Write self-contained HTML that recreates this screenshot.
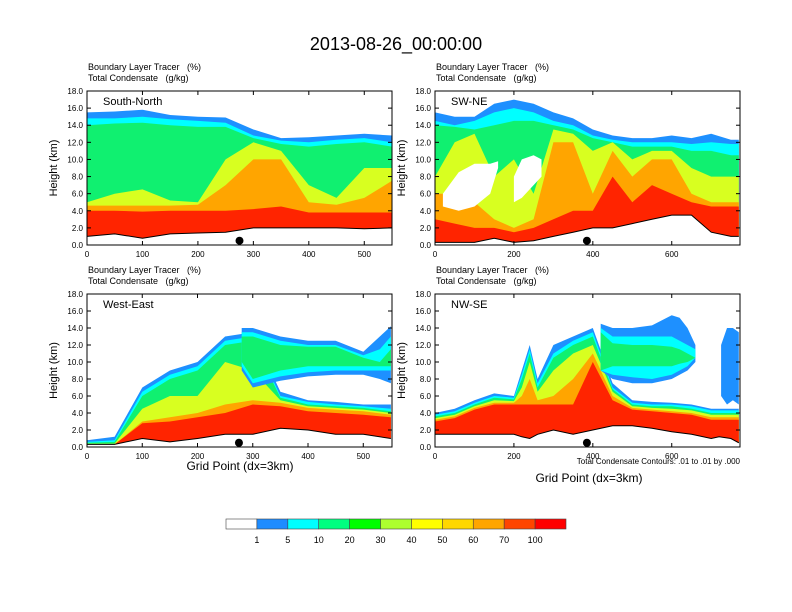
<!DOCTYPE html>
<html><head><meta charset="utf-8">
<style>
html,body{margin:0;padding:0;background:#fff;}
svg{display:block;font-family:"Liberation Sans",sans-serif;}
text{white-space:pre;}
</style></head>
<body>
<svg id="fig" width="792" height="612" viewBox="0 0 792 612">
<text x="396" y="50" text-anchor="middle" font-size="18">2013-08-26_00:00:00</text>
</svg>
<script>
// ---------- data ----------
const levelColors = ["#1e90ff","#00ffff","#10f070","#d8ff20","#ffa500","#ff2400"];
const cbLabels = ["1","5","10","20","30","40","50","60","70","100"];
const cbColors = ["#ffffff","#1e8cff","#00ffff","#00ff80","#00ff00","#adff2f","#ffff00","#ffd700","#ffa500","#ff4500","#ff0000"];

// South-North
const snX = [0,50,100,150,200,250,300,350,400,450,500,550];
const snGround = [1.0,1.3,0.8,1.3,1.4,1.5,2.0,2.0,2.0,2.0,1.9,2.0];
const snBlue = [15.5,15.6,15.8,15.2,15.0,14.9,13.5,12.5,12.6,12.8,13.0,12.8];
const snCyan = [14.8,14.8,15.0,14.7,14.5,14.3,12.8,12.2,12.0,12.3,12.5,12.0];
const snGreen = [14.0,14.2,14.3,14.0,13.8,13.8,12.5,11.8,11.5,11.8,12.0,11.5];
const snYellow = [5.0,6.0,6.5,5.2,5.0,10,12,11,7,5.5,9,9];
const snOrange = [4.6,4.6,4.6,4.6,4.7,7,10,10,5,4.7,5.5,7.5];
const snRed = [4.0,4.0,3.9,4.0,4.0,4.0,4.2,4.5,3.8,3.8,3.8,3.8];

// SW-NE
const swX = [0,50,100,150,200,250,300,350,400,450,500,550,600,650,700,750,770];
const swGround = [0.3,0.3,0.3,0.8,0.3,0.5,1.0,1.5,2.0,2.0,2.5,3.0,3.5,3.5,1.5,1.0,1.0];
const swBlue = [15.5,15,15,16.5,17,16.5,15.5,14.8,13.5,12.8,12.5,12.5,12.8,12.5,13,12.3,12.3];
const swCyan = [14.5,14,14.5,15.5,16,15.5,14.5,14,12.8,12.3,12,12,12,11.8,12,11.8,11.8];
const swGreen = [14,13.8,13.5,14,14.5,14.5,14,13.5,12.5,12,11.5,11.5,11.5,11,11,10.5,10.5];
const swYellow = [8,12,13,8,10,6,13.5,13,11,12,10,11,11,9,8,8,8];
const swOrange = [6,6,5,3,2,3,12,12,6,11,8,10,10,6,5,5,5];
const swRed = [3,2.5,2,2,1.5,2,3,4,4,8,5,7,6,5,4.5,4.5,4.5];
const swGap1X = [20,60,100,140,160];
const swGap1Bottom = [4.5,4,4.5,6,9];
const swGap1Top = [6,8.5,9.5,9.5,9.8];
const swGap2X = [200,220,250,270];
const swGap2Bottom = [5,5.5,7,8];
const swGap2Top = [8,10,10.5,10];

// West-East
const weX = [0,50,100,150,200,250,300,350,400,450,500,550];
const weGround = [0.3,0.3,1.0,0.6,1.0,1.5,1.5,2.2,2.0,1.5,1.5,1.0];
const weBlue = [0.8,1.2,7,9,10,13,13.5,6.5,5.5,5.3,5,5];
const weCyan = [0.6,0.8,6.5,8.5,9.5,12.5,13,6,5.3,5,4.8,4.5];
const weGreen = [0.5,0.6,6,8,9,12,12.5,5.8,5,4.8,4.6,4.2];
const weYellow = [0.4,0.4,4.5,6,6,10,9,5.5,4.8,4.6,4.4,4];
const weOrange = [0.3,0.3,3,3.5,4,5,5.5,5.2,4.6,4.4,4.2,3.8];
const weRed = [0.3,0.3,2.8,3,3.5,4,5,4.8,4.2,4,3.8,3.5];
const weAnvilX = [280,300,350,400,450,500,530,550];
const weAnvilBlueB = [9,7,7.8,8.3,8.5,8.5,8,7.5];
const weAnvilBlueT = [14,14,13,12.5,12.5,11.2,13,14.2];
const weAnvilCyanB = [9.5,7.5,8.3,8.8,9,9,9,9];
const weAnvilCyanT = [13.5,13.5,12.5,12,12,10.8,11.5,13];
const weAnvilGreenB = [10,8,9,9.5,9.5,9.5,9.5,9.5];
const weAnvilGreenT = [13,13,12,11.8,11.8,10.5,10,11.5];

// NW-SE
const nwX = [0,50,100,150,200,220,240,260,300,350,400,450,500,550,600,650,700,720,750,770];
const nwGround = [1.5,1.5,1.5,1.5,1.5,1.2,1.0,1.5,2,1.5,2,2.5,2.5,2.2,1.8,1.5,1.0,1.2,1.0,0.5];
const nwBlue = [4,4.5,5.5,6.3,6,9,12,8,12,13,14,7.5,5.5,5.3,5.2,5,4.5,4.5,4.5,4.5];
const nwCyan = [3.8,4.2,5.2,6,5.8,8.5,11.5,7.5,11,12.5,13.5,7,5.2,5,5,4.8,4.3,4.3,4.3,4.3];
const nwGreen = [3.6,4,5,5.8,5.6,8,11,7,10.5,12,13,6.8,5,4.8,4.8,4.5,4,4,4,4];
const nwYellow = [3.4,3.8,4.8,5.5,5.4,7,10,6.5,9,11,12,6.5,4.8,4.6,4.5,4.3,3.8,3.8,3.8,3.8];
const nwOrange = [3.2,3.6,4.6,5.2,5.2,6,8,5.5,6,8,11,6,4.6,4.4,4.2,4,3.5,3.5,3.5,3.5];
const nwRed = [3,3.4,4.4,5,5,5,5,5,5,5,10,5.5,4.4,4.2,4,3.8,3.2,3.2,3.2,3.2];
const nwAnvilX = [420,450,500,550,600,620,640,660];
const nwAnvilBlueB = [9,8,7.5,7.5,8,8.5,9,10];
const nwAnvilBlueT = [14.5,14,14,14.3,15.5,15.2,14,12];
const nwAnvilCyanB = [9,8.5,8.2,8,8.5,9,9.5,10.5];
const nwAnvilCyanT = [14,13,13,13,13,12.5,12,11.5];
const nwAnvilGreenB = [9,9.5,9.5,9.5,9.5,9.8,10,10.5];
const nwAnvilGreenT = [13.5,12.2,12,12,11.8,11.5,11,10.5];
const nwEdgeX = [725,740,755,770];
const nwEdgeB = [6,5,5.5,5];
const nwEdgeT = [12,14,14,13.5];

const yTicks = [0,2,4,6,8,10,12,14,16,18];
const leftXTicks = [0,100,200,300,400,500];
const rightXTicks = [0,200,400,600];
const markerLeft = 275, markerRight = 385;

// ---------- drawing ----------
const NS = "http://www.w3.org/2000/svg";
const svg = document.getElementById("fig");
function mk(tag, attrs, parent){
  const e = document.createElementNS(NS, tag);
  for (const k in attrs) e.setAttribute(k, attrs[k]);
  (parent||svg).appendChild(e);
  return e;
}
function band(g, sx, sy, xs, bot, top, color, name){
  let pts = [];
  for (let i=0;i<xs.length;i++) pts.push(sx(xs[i]).toFixed(1)+","+sy(top[i]).toFixed(1));
  for (let i=xs.length-1;i>=0;i--) pts.push(sx(xs[i]).toFixed(1)+","+sy(bot[i]).toFixed(1));
  const p = mk("polygon",{points:pts.join(" "),fill:color},g);
  
  
}
function panel(cfg){
  const {x0,y0,w,h,xmax,name,xTicks} = cfg;
  const sx = v => x0 + v/xmax*w;
  const sy = v => y0 + h - v/18*h;
  const g = mk("g",{});
  
  
  const clip = mk("clipPath",{id:"clip-"+cfg.id},g);
  mk("rect",{x:x0,y:y0,width:w,height:h},clip);
  const pg = mk("g",{"clip-path":"url(#clip-"+cfg.id+")"},g);
  const lay = cfg.layers;
  for (let i=0;i<lay.length;i++) band(pg,sx,sy,cfg.xs,cfg.ground,lay[i],levelColors[i],"fill-level-"+(i+1));
  (cfg.uppers||[]).forEach((u,j)=>band(pg,sx,sy,u.xs,u.b,u.t,u.c,"upper-cloud-"+j));
  let gp = cfg.xs.map((x,i)=>sx(x).toFixed(1)+","+sy(cfg.ground[i]).toFixed(1)).join(" ");
  const gl = mk("polyline",{points:gp,fill:"none",stroke:"#000","stroke-width":1},pg);
  
  
  const dot = mk("circle",{cx:sx(cfg.marker),cy:sy(0.5),r:4,fill:"#000"},g);
  
  
  mk("rect",{x:x0,y:y0,width:w,height:h,fill:"none",stroke:"#000","stroke-width":1},g);
  yTicks.forEach(t=>{
    const y = sy(t);
    mk("line",{x1:x0,x2:x0+4,y1:y,y2:y,stroke:"#000"},g);
    mk("line",{x1:x0+w,x2:x0+w-4,y1:y,y2:y,stroke:"#000"},g);
    const tl = mk("text",{x:x0-4,y:y+3,"text-anchor":"end","font-size":8},g);
    tl.textContent = t.toFixed(1);
    
    
  });
  xTicks.forEach(t=>{
    const x = sx(t);
    mk("line",{x1:x,x2:x,y1:y0+h,y2:y0+h-4,stroke:"#000"},g);
    mk("line",{x1:x,x2:x,y1:y0,y2:y0+4,stroke:"#000"},g);
    const tl = mk("text",{x:x,y:y0+h+12,"text-anchor":"middle","font-size":8},g);
    tl.textContent = t;
    
    
  });
  const yt = mk("text",{x:0,y:0,"text-anchor":"middle","font-size":11,transform:"translate("+(x0-30)+","+(y0+h/2)+") rotate(-90)"},g);
  yt.textContent = "Height (km)";
  
  
  const nm = mk("text",{x:x0+16,y:y0+14,"font-size":11},g);
  nm.textContent = name;
  
  
  const s1 = mk("text",{x:x0+1,y:y0-21,"font-size":9},g);
  s1.textContent = "Boundary Layer Tracer   (%)";
  
  
  const s2 = mk("text",{x:x0+1,y:y0-10,"font-size":9},g);
  s2.textContent = "Total Condensate   (g/kg)";
  
  
}
panel({id:"south-north",x0:87,y0:91,w:305,h:154,xmax:550,name:"South-North",xTicks:leftXTicks,
  xs:snX,ground:snGround,layers:[snBlue,snCyan,snGreen,snYellow,snOrange,snRed],marker:markerLeft});
panel({id:"sw-ne",x0:435,y0:91,w:305,h:154,xmax:773,name:"SW-NE",xTicks:rightXTicks,
  xs:swX,ground:swGround,layers:[swBlue,swCyan,swGreen,swYellow,swOrange,swRed],marker:markerRight,
  uppers:[{xs:swGap1X,b:swGap1Bottom,t:swGap1Top,c:"#fff"},{xs:swGap2X,b:swGap2Bottom,t:swGap2Top,c:"#fff"}]});
panel({id:"west-east",x0:87,y0:294,w:305,h:153,xmax:552,name:"West-East",xTicks:leftXTicks,
  xs:weX,ground:weGround,layers:[weBlue,weCyan,weGreen,weYellow,weOrange,weRed],marker:markerLeft,
  uppers:[{xs:weAnvilX,b:weAnvilBlueB,t:weAnvilBlueT,c:levelColors[0]},{xs:weAnvilX,b:weAnvilCyanB,t:weAnvilCyanT,c:levelColors[1]},{xs:weAnvilX,b:weAnvilGreenB,t:weAnvilGreenT,c:levelColors[2]}]});
panel({id:"nw-se",x0:435,y0:294,w:305,h:153,xmax:773,name:"NW-SE",xTicks:rightXTicks,
  xs:nwX,ground:nwGround,layers:[nwBlue,nwCyan,nwGreen,nwYellow,nwOrange,nwRed],marker:markerRight,
  uppers:[{xs:nwAnvilX,b:nwAnvilBlueB,t:nwAnvilBlueT,c:levelColors[0]},{xs:nwAnvilX,b:nwAnvilCyanB,t:nwAnvilCyanT,c:levelColors[1]},{xs:nwAnvilX,b:nwAnvilGreenB,t:nwAnvilGreenT,c:levelColors[2]},{xs:nwEdgeX,b:nwEdgeB,t:nwEdgeT,c:levelColors[0]}]});

let t = mk("text",{x:240,y:470,"text-anchor":"middle","font-size":12});
t.textContent = "Grid Point (dx=3km)";


t = mk("text",{x:589,y:482,"text-anchor":"middle","font-size":12});
t.textContent = "Grid Point (dx=3km)";


t = mk("text",{x:740,y:464,"text-anchor":"end","font-size":8});
t.textContent = "Total Condensate Contours: .01 to .01 by .000";



const cb = mk("g",{});


const cbx = 226, cby = 519, cbw = 340/11, cbh = 10;
cbColors.forEach((c,i)=>{
  const r = mk("rect",{x:cbx+i*cbw,y:cby,width:cbw,height:cbh,fill:c,stroke:"#444","stroke-width":0.6},cb);
  
  
});
cbLabels.forEach((l,i)=>{
  const tl = mk("text",{x:cbx+(i+1)*cbw,y:cby+24,"text-anchor":"middle","font-size":9},cb);
  tl.textContent = l;
  
  
});
</script>
</body></html>
